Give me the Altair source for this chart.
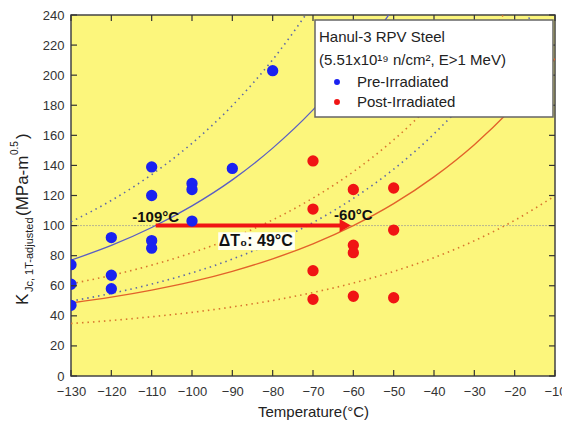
import altair as alt
import pandas as pd

# ---------------- data ----------------
pre_T = [-130, -130, -130, -120, -120, -120, -110, -110, -110, -110, -100, -100, -100, -90, -80]
pre_K = [74, 61, 47, 92, 67, 58, 139, 120, 90, 85, 128, 124, 103, 138, 203]

post_T = [-70, -70, -70, -70, -60, -60, -60, -60, -50, -50, -50]
post_K = [143, 111, 70, 51, 124, 87, 82, 53, 125, 97, 52]

curve_T = [-130, -120, -110, -100, -90, -80, -70, -60, -50, -40, -30, -20, -10]
blue_median = [77.0, 86.8, 98.7, 113.1, 130.4, 151.5, 176.9, 207.6, 244.8]
blue_upper = [102.5, 116.7, 133.9, 154.7, 179.8, 210.3, 247.0]
blue_lower = [49.8, 54.9, 61.1, 68.6, 77.7, 88.7, 102.0, 118.1, 137.5, 161.0, 189.4, 223.7, 265.3]
red_median = [48.5, 52.4, 57.1, 62.7, 69.6, 77.9, 87.9, 100.0, 114.6, 132.4, 153.8, 179.7, 211.0]
red_upper = [61.3, 66.9, 73.7, 81.9, 91.8, 103.8, 118.3, 135.8, 157.0, 182.6, 213.6, 251.1]
red_lower = [34.9, 36.9, 39.4, 42.3, 45.9, 50.2, 55.5, 61.8, 69.5, 78.7, 89.9, 103.5, 119.8]

T0_pre = -109
T0_post = -60
K_ref = 100
delta_label = "ΔT₀: 49°C"

x_ticks = [-130, -120, -110, -100, -90, -80, -70, -60, -50, -40, -30, -20, -10]
y_ticks = [0, 20, 40, 60, 80, 100, 120, 140, 160, 180, 200, 220, 240]

legend_title = ["Hanul-3 RPV Steel", "(5.51x10¹⁹ n/cm², E>1 MeV)"]
legend_items = ["Pre-Irradiated", "Post-Irradiated"]

# ---------------- styling ----------------
W, H = 484, 361
FONT = "Liberation Sans"
BLUE_PT = "#1a22f0"
RED_PT = "#f01414"
BLUE_LINE = "#5a5ec4"
BLUE_DOT = "#5e6aa6"
RED_LINE = "#e2622a"
RED_DOT = "#d8762e"

xs = alt.Scale(domain=[-130, -10], nice=False, zero=False)
ys = alt.Scale(domain=[0, 240], nice=False, zero=True)
X = alt.X("T:Q", scale=xs,
          axis=alt.Axis(values=x_ticks, title="Temperature(°C)", titleFontSize=15,
                        titleFontWeight="normal", titleColor="#222", titlePadding=6,
                        labelFontSize=13, labelColor="#333", labelPadding=9,
                        ticks=False, domain=False, grid=False, labelFlush=False))
Y = alt.Y("K:Q", scale=ys,
          axis=alt.Axis(values=y_ticks, title=None, labelFontSize=13, labelColor="#333",
                        labelPadding=7, ticks=False, domain=False, grid=False))

def one():
    return pd.DataFrame({"a": [0]})

layers = []

# reference line at 100
ref_df = pd.DataFrame({"K": [K_ref]})
layers.append(alt.Chart(ref_df).mark_rule(color="#b9b78e", strokeWidth=1, strokeDash=[2, 1]).encode(
    y=Y, x=alt.value(0), x2=alt.value(W)))

def curve(vals, color, dash=None, width=1.3):
    df = pd.DataFrame({"T": curve_T[:len(vals)], "K": vals})
    kw = dict(color=color, strokeWidth=width, clip=True, interpolate="monotone")
    if dash:
        kw["strokeDash"] = dash
    return alt.Chart(df).mark_line(**kw).encode(x=X, y=Y)

layers.append(curve(blue_upper, BLUE_DOT, [1.5, 4], 1.6))
layers.append(curve(blue_lower, BLUE_DOT, [1.5, 4], 1.6))
layers.append(curve(red_upper, RED_DOT, [1.5, 4], 1.6))
layers.append(curve(red_lower, RED_DOT, [1.5, 4], 1.6))
layers.append(curve(blue_median, BLUE_LINE, None, 1.3))
layers.append(curve(red_median, RED_LINE, None, 1.4))

# arrow
arrow_df = pd.DataFrame({"T": [T0_pre], "T2": [-62.5], "K": [K_ref]})
layers.append(alt.Chart(arrow_df).mark_rule(color=RED_PT, strokeWidth=4).encode(
    x=X, x2="T2:Q", y=Y))
head_df = pd.DataFrame({"T": [-62.0], "K": [K_ref]})
layers.append(alt.Chart(head_df).mark_point(shape="triangle-right", filled=True, color=RED_PT,
                                            opacity=1, size=170).encode(x=X, y=Y))

# points
pre_df = pd.DataFrame({"T": pre_T, "K": pre_K})
post_df = pd.DataFrame({"T": post_T, "K": post_K})
layers.append(alt.Chart(pre_df).mark_circle(color=BLUE_PT, opacity=1, size=128, clip=True).encode(x=X, y=Y))
layers.append(alt.Chart(post_df).mark_circle(color=RED_PT, opacity=1, size=128, clip=True).encode(x=X, y=Y))

# annotations
lab_df = pd.DataFrame({"T": [T0_pre, T0_post], "K": [106, 107], "t": ["-109°C", "-60°C"]})
layers.append(alt.Chart(lab_df).mark_text(font=FONT, fontSize=15, fontWeight="bold", color="#111",
                                          align="center", baseline="middle").encode(x=X, y=Y, text="t:N"))
dbg_df = pd.DataFrame({"T": [-93.5], "T2": [-74.5], "K": [95.5], "K2": [83.8]})
layers.append(alt.Chart(dbg_df).mark_rect(color="#fffff2").encode(x=X, x2="T2:Q", y=Y, y2="K2:Q"))
dl_df = pd.DataFrame({"T": [-84.2], "K": [89.6], "t": [delta_label]})
layers.append(alt.Chart(dl_df).mark_text(font=FONT, fontSize=16, fontWeight="bold", color="#111",
                                         align="center", baseline="middle").encode(x=X, y=Y, text="t:N"))

# inward ticks on all four sides
xt_df = pd.DataFrame({"T": x_ticks})
yt_df = pd.DataFrame({"K": y_ticks})
TK = "#333"
layers.append(alt.Chart(xt_df).mark_rule(color=TK, strokeWidth=1.2).encode(x=X, y=alt.value(H - 6), y2=alt.value(H)))
layers.append(alt.Chart(xt_df).mark_rule(color=TK, strokeWidth=1.2).encode(x=X, y=alt.value(0), y2=alt.value(6)))
layers.append(alt.Chart(yt_df).mark_rule(color=TK, strokeWidth=1.2).encode(y=Y, x=alt.value(0), x2=alt.value(6)))
layers.append(alt.Chart(yt_df).mark_rule(color=TK, strokeWidth=1.2).encode(y=Y, x=alt.value(W - 6), x2=alt.value(W)))

# legend box
layers.append(alt.Chart(one()).mark_rect(fill="white", stroke="#666", strokeWidth=1.5).encode(
    x=alt.value(244), x2=alt.value(482), y=alt.value(5), y2=alt.value(102)))
for i, s in enumerate(legend_title):
    layers.append(alt.Chart(one()).mark_text(text=s, font=FONT, fontSize=15, color="#222",
                                             align="left", baseline="middle").encode(
        x=alt.value(248), y=alt.value(22 + 23 * i)))
for i, (s, c) in enumerate(zip(legend_items, [BLUE_PT, RED_PT])):
    layers.append(alt.Chart(one()).mark_circle(color=c, opacity=1, size=35).encode(
        x=alt.value(266), y=alt.value(67 + 20 * i)))
    layers.append(alt.Chart(one()).mark_text(text=s, font=FONT, fontSize=15, color="#222",
                                             align="left", baseline="middle").encode(
        x=alt.value(286), y=alt.value(67 + 20 * i)))

# y-axis title pieces (rotated)
def ytext(s, x, y, fs):
    return alt.Chart(one()).mark_text(text=s, font=FONT, fontSize=fs, color="#222", angle=270,
                                      align="left", baseline="middle").encode(
        x=alt.value(x), y=alt.value(y))

layers.append(ytext("K", -48, 290, 17))
layers.append(ytext("Jc, 1T-adjusted", -41, 277, 11))
layers.append(ytext("(MPa-m", -48, 201, 17))
layers.append(ytext("0.5", -56, 140, 10))
layers.append(ytext(")", -48, 124, 17))

chart = alt.layer(*layers).properties(
    width=W, height=H,
    autosize=alt.AutoSizeParams(type="none"),
    padding={"left": 63, "top": 7, "right": 7, "bottom": 48},
).configure_view(fill="#fcf67c", stroke="#444", strokeWidth=1.5).configure_axis(
    labelFont=FONT, titleFont=FONT)

chart.save("out.html", embed_options={"renderer": "svg", "actions": False})
